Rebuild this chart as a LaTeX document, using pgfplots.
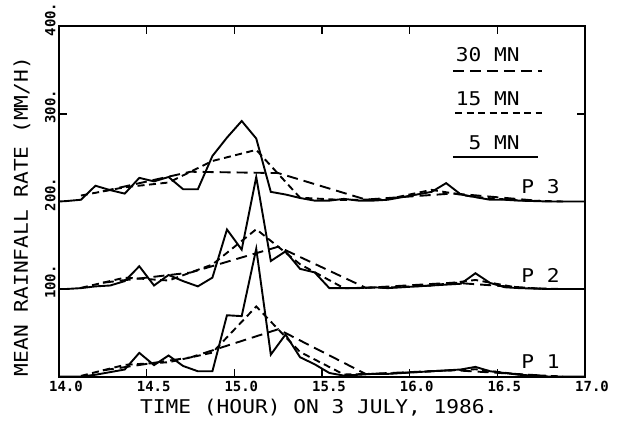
\documentclass[border=0pt]{standalone}
\usepackage{pgfplots}
\pgfplotsset{compat=1.18}
\usepackage{pgfplotstable}
\usepackage{fontspec}
\setmainfont{DejaVu Sans Mono}
\newfontfamily\plotfont{DejaVu Sans Mono}[FakeStretch=1.12]
\newfontfamily\tickfam{DejaVu Sans Mono}
\newcommand\lab{\plotfont\fontsize{19}{22}\selectfont}
\newcommand\tik{\tickfam\bfseries\fontsize{14}{16}\selectfont}

% 5-minute means (offsets: P1 +0, P2 +100, P3 +200)
\pgfplotstableread{
t      p1   p2    p3
14.000 0    100   200
14.042 0    100   200.5
14.125 0    101   202
14.208 2    103   218
14.292 5    104   213
14.375 8    109   209
14.458 27   126   227
14.542 13   104   223
14.625 24   116   228
14.708 12   109   214
14.792 6    103   214
14.875 6    113   252
14.958 70   168   273
15.042 69   145   292
15.125 146  228   272
15.208 25   132   211
15.292 48   143   208
15.375 22   123   204
15.458 14   119   201
15.542 4    101   201
15.625 1    101   203
15.708 2    101   201
15.792 3    102   201
15.875 3    101   202
15.958 4    102   205
16.042 5    103   208
16.125 6    104   211
16.208 7    105   221
16.292 8    106   208
16.375 11   118   205
16.458 6    107   202
16.542 4    102   202
16.625 2    101   201
16.708 1    100.5 200.5
16.792 0    100   200
16.875 0    100   200
16.958 0    100   200
17.000 0    100   200
}\fivemin

% 15-minute means
\pgfplotstableread{
t      p1    p2    p3
14.125 0.7   101.3 206.8
14.375 13.3  113   216.3
14.625 16.3  109.7 221.7
14.875 27.3  128   246.3
15.125 80    168.3 259
15.375 28    128.3 204.3
15.625 2.3   101   201.7
15.875 3.3   101.7 202.7
16.125 6     104   213.3
16.375 8.3   110.3 205
16.625 2.3   101.2 201.2
16.875 0     100   200
}\fifteenmin

% 30-minute means
\pgfplotstableread{
t     p1    p2    p3
14.25 7     107.2 211.6
14.75 21.8  118.8 234
15.25 54    148.3 232.5
15.75 2.8   101.3 202.2
16.25 7.2   107.2 209.2
16.75 1.2   100.3 200.5
}\thirtymin

\begin{document}
\begin{tikzpicture}
\useasboundingbox (-59bp,-49.5bp) rectangle (561bp,376.5bp);
\begin{axis}[
  at={(0,0)}, anchor=south west,
  scale only axis, width=526bp, height=350bp,
  xmin=14, xmax=17, ymin=0, ymax=400,
  xtick={14,14.5,15,15.5,16,16.5,17},
  xticklabels={14.0,14.5,15.0,15.5,16.0,16.5,17.0},
  ytick={100,200,300,400},
  yticklabels={100.,200.,300.,400.},
  /pgf/number format/assume math mode=true,
  tick align=inside, major tick length=8bp,
  axis line style={line width=2bp},
  every tick/.style={black, line width=1.6bp},
  xticklabel style={font=\tik, xshift=7bp, yshift=-1bp},
  yticklabel style={font=\tik, rotate=90, anchor=south, xshift=7bp},
  xlabel={TIME (HOUR) ON 3 JULY, 1986.},
  ylabel={MEAN RAINFALL RATE (MM/H)},
  xlabel style={font=\lab, at={(axis description cs:0.494,-0.088)}, anchor=center},
  ylabel style={font=\lab, at={(axis description cs:-0.0703,0.457)}, anchor=center},
  clip=false,
]
% 5 MN (solid)
\addplot[black, line width=1.9bp] table[x=t,y=p3] {\fivemin};
\addplot[black, line width=1.9bp] table[x=t,y=p2] {\fivemin};
\addplot[black, line width=1.9bp] table[x=t,y=p1] {\fivemin};
% 15 MN (short dashes)
\addplot[black, line width=1.9bp, dash pattern=on 7bp off 4.5bp] table[x=t,y=p3] {\fifteenmin};
\addplot[black, line width=1.9bp, dash pattern=on 7bp off 4.5bp] table[x=t,y=p2] {\fifteenmin};
\addplot[black, line width=1.9bp, dash pattern=on 7bp off 4.5bp] table[x=t,y=p1] {\fifteenmin};
% 30 MN (long dashes)
\addplot[black, line width=1.9bp, dash pattern=on 11bp off 6bp] table[x=t,y=p3] {\thirtymin};
\addplot[black, line width=1.9bp, dash pattern=on 11bp off 6bp] table[x=t,y=p2] {\thirtymin};
\addplot[black, line width=1.9bp, dash pattern=on 11bp off 6bp] table[x=t,y=p1] {\thirtymin};

% legend
\node[anchor=east, inner sep=0pt, font=\lab] at (axis cs:16.629,367.4) {30 MN};
\draw[black, line width=1.9bp, dash pattern=on 11bp off 6bp] (axis cs:16.247,349.5) -- (axis cs:16.755,349.5);
\node[anchor=east, inner sep=0pt, font=\lab] at (axis cs:16.629,317.1) {15 MN};
\draw[black, line width=1.9bp, dash pattern=on 7bp off 4.5bp] (axis cs:16.259,300.8) -- (axis cs:16.755,300.8);
\node[anchor=east, inner sep=0pt, font=\lab] at (axis cs:16.629,266.9) {5 MN};
\draw[black, line width=1.9bp] (axis cs:16.247,251.2) -- (axis cs:16.732,251.2);

% profile labels
\node[anchor=east, inner sep=0pt, font=\lab] at (axis cs:16.857,216.9) {P 3};
\node[anchor=east, inner sep=0pt, font=\lab] at (axis cs:16.857,116) {P 2};
\node[anchor=east, inner sep=0pt, font=\lab] at (axis cs:16.857,16.9) {P 1};
\end{axis}
\end{tikzpicture}
\end{document}
